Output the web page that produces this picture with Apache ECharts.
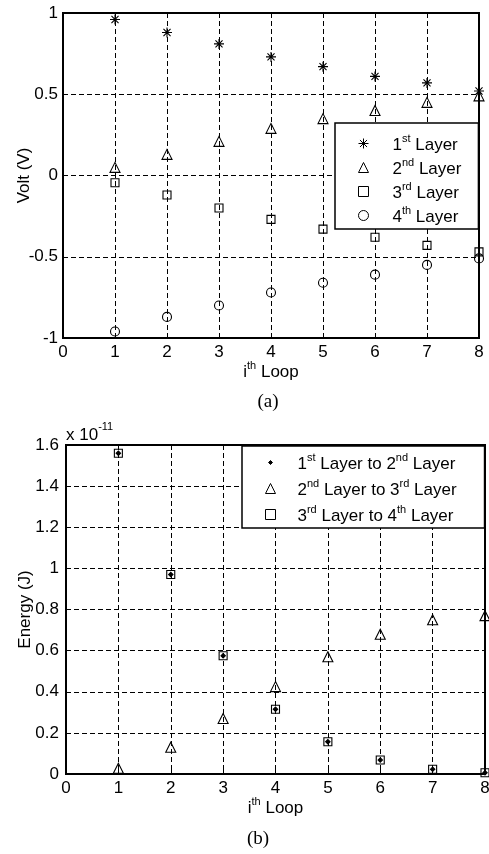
<!DOCTYPE html>
<html><head><meta charset="utf-8">
<script src="https://cdn.jsdelivr.net/npm/echarts@6/dist/echarts.min.js"></script>
<style>html,body{margin:0;padding:0;background:#fff}#c{width:489px;height:854px}</style>
</head><body><div id="c"></div>
<script>
// ---- data ----
const loops = [1, 2, 3, 4, 5, 6, 7, 8];
const layerNames = ['1st Layer', '2nd Layer', '3rd Layer', '4th Layer'];
const volt1 = [0.96, 0.88, 0.81, 0.73, 0.67, 0.61, 0.57, 0.52];
const volt2 = [0.05, 0.13, 0.21, 0.29, 0.35, 0.40, 0.45, 0.49];
const volt3 = [-0.045, -0.12, -0.20, -0.27, -0.33, -0.38, -0.43, -0.47];
const volt4 = [-0.96, -0.87, -0.80, -0.72, -0.66, -0.61, -0.55, -0.51];
const transferNames = ['1st Layer to 2nd Layer', '2nd Layer to 3rd Layer', '3rd Layer to 4th Layer'];
// energy values in units of 1e-11 J
const energy12 = [1.56, 0.97, 0.575, 0.315, 0.157, 0.068, 0.023, 0.006];
const energy23 = [0.028, 0.13, 0.27, 0.425, 0.57, 0.68, 0.75, 0.77];
const energy34 = [1.56, 0.97, 0.575, 0.315, 0.157, 0.068, 0.023, 0.006];
const energyExponent = '-11';
const xAxisName = '{n|i}{s|th}{n| Loop}';

// ---- styling ----
const F = 'Liberation Sans';
const SER = 'Liberation Serif';
const richSup = {
  n: { fontFamily: F, fontSize: 17, color: '#000', lineHeight: 20, padding: [4, 0, 0, 0] },
  s: { fontFamily: F, fontSize: 11, color: '#000', lineHeight: 12, verticalAlign: 'top' }
};
function supFmt(name) {
  return '{n|' + name.replace(/(\d)(st|nd|rd|th)/g, '$1}{s|$2}{n|') + '}';
}
const ASTER = 'path://M5,0L5,10M0,5L10,5M1.46,1.46L8.54,8.54M8.54,1.46L1.46,8.54';
const DOT = 'path://M0,0L0.001,0Z M10,10L9.999,10Z M3,5L5,3L7,5L5,7Z';

function xAx(gi) {
  return {
    type: 'value', gridIndex: gi, min: 0, max: 8, interval: 1,
    axisLine: { show: true, onZero: false, lineStyle: { color: '#000', width: 2 } },
    axisTick: { show: true, inside: true, length: 4, lineStyle: { color: '#000' } },
    axisLabel: { color: '#000', fontFamily: F, fontSize: 17, margin: 6 },
    splitLine: { show: true, lineStyle: { color: '#000', type: [5, 3], width: 1 } },
    name: xAxisName,
    nameLocation: 'middle', nameGap: 22, nameMoveOverlap: false,
    nameTextStyle: { rich: richSup }
  };
}
function yAx(gi, min, max, interval, name, gap, margin) {
  return {
    type: 'value', gridIndex: gi, min: min, max: max, interval: interval,
    axisLine: { show: true, onZero: false, lineStyle: { color: '#000', width: 2 } },
    axisTick: { show: true, inside: true, length: 4, lineStyle: { color: '#000' } },
    axisLabel: { color: '#000', fontFamily: F, fontSize: 17, margin: margin },
    splitLine: { show: true, lineStyle: { color: '#000', type: [5, 3], width: 1 } },
    name: name, nameLocation: 'middle', nameGap: gap, nameMoveOverlap: false,
    nameTextStyle: { color: '#000', fontFamily: F, fontSize: 17 }
  };
}
function pairs(vals) { return loops.map((x, i) => [x, vals[i]]); }
function sc(name, gi, vals, symbol, size, filled) {
  return {
    type: 'scatter', name: name, xAxisIndex: gi, yAxisIndex: gi,
    data: pairs(vals), symbol: symbol, symbolSize: size, symbolKeepAspect: true,
    itemStyle: { color: filled ? '#000' : 'transparent', borderColor: '#000', borderWidth: 1.1, opacity: 1 },
    emphasis: { disabled: true }, z: 3
  };
}
const legendCommon = {
  orient: 'vertical', backgroundColor: '#fff', borderColor: '#000', borderWidth: 1.5,
  borderRadius: 0, itemWidth: 10, itemHeight: 10, symbolKeepAspect: true, selectedMode: false,
  itemStyle: { borderWidth: 1 },
  formatter: supFmt, z: 10
};

const option = {
  animation: false,
  backgroundColor: '#fff',
  grid: [
    { left: 63, top: 13, width: 416, height: 325, show: true, borderColor: '#000', borderWidth: 2, backgroundColor: '#fff', outerBoundsMode: 'none', containLabel: false },
    { left: 66, top: 445, width: 419, height: 329, show: true, borderColor: '#000', borderWidth: 2, backgroundColor: '#fff', outerBoundsMode: 'none', containLabel: false }
  ],
  xAxis: [xAx(0), xAx(1)],
  yAxis: [
    yAx(0, -1, 1, 0.5, 'Volt (V)', 30, 5),
    yAx(1, 0, 1.6, 0.2, 'Energy (J)', 32, 7)
  ],
  legend: [
    Object.assign({}, legendCommon, {
      data: layerNames, left: 335, top: 123, itemGap: 3, padding: [10, 17, 3, 23],
      textStyle: { rich: richSup, padding: [0, 0, 0, 19] }
    }),
    Object.assign({}, legendCommon, {
      data: transferNames, left: 242, top: 446, itemGap: 5, padding: [6, 28, 3, 23],
      textStyle: { rich: richSup, padding: [0, 0, 0, 17] }
    })
  ],
  series: [
    sc(layerNames[0], 0, volt1, ASTER, 10, false),
    sc(layerNames[1], 0, volt2, 'triangle', 10, false),
    sc(layerNames[2], 0, volt3, 'rect', 8, false),
    sc(layerNames[3], 0, volt4, 'circle', 9, false),
    sc(transferNames[0], 1, energy12, DOT, 11, true),
    sc(transferNames[1], 1, energy23, 'triangle', 10, false),
    sc(transferNames[2], 1, energy34, 'rect', 8, false)
  ],
  graphic: [
    { type: 'text', x: 268, y: 402, style: { text: '(a)', fontFamily: SER, fontSize: 19, fill: '#000', align: 'center', verticalAlign: 'middle' } },
    { type: 'text', x: 258, y: 839, style: { text: '(b)', fontFamily: SER, fontSize: 19, fill: '#000', align: 'center', verticalAlign: 'middle' } },
    { type: 'text', x: 66, y: 421, style: {
        text: '{n|x 10}{s|' + energyExponent + '}', align: 'left', verticalAlign: 'top',
        rich: {
          n: { fontFamily: F, fontSize: 17, fill: '#000', lineHeight: 20, padding: [8, 0, 0, 0] },
          s: { fontFamily: F, fontSize: 11, fill: '#000', lineHeight: 12, verticalAlign: 'top' }
        } } }
  ]
};
const chart = echarts.init(document.getElementById('c'), null, { renderer: 'canvas' });
chart.setOption(option);
</script>
</body></html>
